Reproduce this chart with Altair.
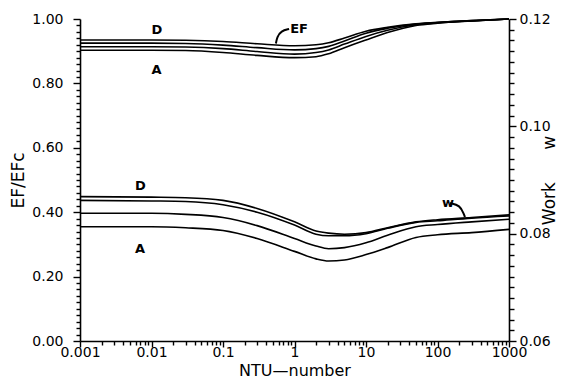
import altair as alt
import pandas as pd

# ---------------- data ----------------
ntu = [0.001, 0.01, 0.03, 0.1, 0.3, 1, 2, 3, 5, 10, 20, 50, 100, 300, 1000]

# EF/EFc curves (left axis)
ef_A = [0.903, 0.903, 0.902, 0.896, 0.887, 0.880, 0.883, 0.892, 0.911, 0.935, 0.958, 0.980, 0.987, 0.994, 1.000]
ef_B = [0.914, 0.914, 0.913, 0.908, 0.899, 0.891, 0.896, 0.904, 0.922, 0.946, 0.965, 0.982, 0.988, 0.994, 1.000]
ef_C = [0.925, 0.925, 0.924, 0.919, 0.911, 0.904, 0.908, 0.915, 0.932, 0.956, 0.971, 0.984, 0.989, 0.995, 1.000]
ef_D = [0.935, 0.935, 0.934, 0.930, 0.923, 0.917, 0.920, 0.926, 0.941, 0.962, 0.974, 0.985, 0.990, 0.995, 1.000]

# Work w curves (right axis)
w_A = [0.0813, 0.0813, 0.0811, 0.0806, 0.0791, 0.0767, 0.0753, 0.0749, 0.0751, 0.0761, 0.0774, 0.0793, 0.0798, 0.0802, 0.0808]
w_B = [0.0838, 0.0838, 0.0836, 0.0830, 0.0815, 0.0791, 0.0777, 0.0772, 0.0774, 0.0783, 0.0797, 0.0813, 0.0817, 0.0822, 0.0827]
w_C = [0.0862, 0.0861, 0.0860, 0.0854, 0.0840, 0.0816, 0.0799, 0.0796, 0.0796, 0.0800, 0.0810, 0.0821, 0.0824, 0.0829, 0.0833]
w_D = [0.0869, 0.0868, 0.0867, 0.0862, 0.0847, 0.0822, 0.0805, 0.0801, 0.0799, 0.0802, 0.0811, 0.0822, 0.0826, 0.0830, 0.0835]

# annotations
ef_lbl_text = ["D", "A", "EF"]
ef_lbl_ntu = [0.0100, 0.0100, 0.87]
ef_lbl_val = [0.966, 0.842, 0.969]
ef_lead_ntu = [0.84, 0.65, 0.57, 0.55]
ef_lead_val = [0.969, 0.963, 0.944, 0.924]

w_lbl_text = ["D", "A", "w"]
w_lbl_ntu = [0.0059, 0.0059, 116]
w_lbl_val = [0.0889, 0.0771, 0.0858]
w_lead_ntu = [150, 206, 235, 242]
w_lead_val = [0.0857, 0.0853, 0.0836, 0.0831]

x_ticks = [m * 10.0 ** e for e in range(-3, 3) for m in range(1, 10)] + [1000.0]
yl_ticks = [round(i * 0.02, 2) for i in range(51)]
yr_ticks = [round(0.06 + i * 0.002, 3) for i in range(31)]

# ---------------- frames ----------------
def long(curves):
    rows = []
    for name, vals in curves.items():
        for n, v in zip(ntu, vals):
            rows.append({"ntu": n, "val": v, "curve": name})
    return pd.DataFrame(rows)

ef_df = long({"A": ef_A, "B": ef_B, "C": ef_C, "D": ef_D})
w_df = long({"A": w_A, "B": w_B, "C": w_C, "D": w_D})
ef_lbl = pd.DataFrame({"ntu": ef_lbl_ntu, "val": ef_lbl_val, "t": ef_lbl_text})
w_lbl = pd.DataFrame({"ntu": w_lbl_ntu, "val": w_lbl_val, "t": w_lbl_text})
ef_lead = pd.DataFrame({"ntu": ef_lead_ntu, "val": ef_lead_val, "o": list(range(len(ef_lead_ntu)))})
w_lead = pd.DataFrame({"ntu": w_lead_ntu, "val": w_lead_val, "o": list(range(len(w_lead_ntu)))})

FONT = "DejaVu Sans"
NB = "\u00a0"

x_axis = alt.Axis(
    values=x_ticks,
    labelExpr="abs(log(datum.value)/LN10 - round(log(datum.value)/LN10)) < 0.001 ? format(datum.value, '~g') : ''",
    tickSize={"condition": {"test": "abs(log(datum.value)/LN10 - round(log(datum.value)/LN10)) < 0.001", "value": 6}, "value": 4},
    labelPadding=-2, labelFontSize=14, titleFontSize=16, titlePadding=3,
    labelFlush=False, labelOverlap=False, title="NTU\u2014number",
)
x_enc = alt.X("ntu:Q", scale=alt.Scale(type="log", domain=[0.001, 1000], nice=False), axis=x_axis)

yl_axis = alt.Axis(
    values=yl_ticks, orient="left",
    labelExpr="abs(datum.value*5 - round(datum.value*5)) < 0.001 ? format(datum.value, '.2f') : ''",
    tickSize={"condition": {"test": "abs(datum.value*5 - round(datum.value*5)) < 0.001", "value": 7}, "value": 4},
    labelPadding=10, labelFontSize=14, titleFontSize=17, titlePadding=4,
    labelOverlap=False, title="EF/EFc",
)
yl_enc = alt.Y("val:Q", scale=alt.Scale(domain=[0, 1], nice=False, zero=False), axis=yl_axis)

yr_axis = alt.Axis(
    values=yr_ticks, orient="right",
    labelExpr="abs(datum.value*50 - round(datum.value*50)) < 0.001 ? format(datum.value, '.2f') : ''",
    tickSize={"condition": {"test": "abs(datum.value*50 - round(datum.value*50)) < 0.001", "value": 7}, "value": 5},
    labelPadding=3, labelFontSize=14, titleFontSize=17, titlePadding=8,
    labelOverlap=False, title="Work" + NB * 6 + "w", titleAngle=270,
)
yr_enc = alt.Y("val:Q", scale=alt.Scale(domain=[0.06, 0.12], nice=False, zero=False), axis=yr_axis)

ef_lines = alt.Chart(ef_df).mark_line(color="black", strokeWidth=1.6, interpolate="monotone").encode(
    x=x_enc, y=yl_enc, detail="curve:N")
ef_text = alt.Chart(ef_lbl).mark_text(font=FONT, fontSize=13, fontWeight="bold", align="left", baseline="middle", color="black").encode(
    x=x_enc, y=yl_enc, text="t:N")
ef_leader = alt.Chart(ef_lead).mark_line(color="black", strokeWidth=2, interpolate="basis").encode(
    x=x_enc, y=yl_enc, order="o:Q")

w_lines = alt.Chart(w_df).mark_line(color="black", strokeWidth=1.6, interpolate="monotone").encode(
    x=x_enc, y=yr_enc, detail="curve:N")
w_text = alt.Chart(w_lbl).mark_text(font=FONT, fontSize=13, fontWeight="bold", align="left", baseline="middle", color="black").encode(
    x=x_enc, y=yr_enc, text="t:N")
w_leader = alt.Chart(w_lead).mark_line(color="black", strokeWidth=2, interpolate="basis").encode(
    x=x_enc, y=yr_enc, order="o:Q")

left = alt.layer(ef_lines, ef_text, ef_leader)
right = alt.layer(w_lines, w_text, w_leader)

chart = alt.layer(left, right).resolve_scale(y="independent").properties(
    width=429, height=322,
    autosize=alt.AutoSizeParams(type="none"),
    padding={"left": 72, "top": 11, "right": 60, "bottom": 40},
).configure_view(stroke=None).configure_axis(
    grid=False, domainColor="black", domainWidth=1.6, tickColor="black", tickWidth=1.4,
    labelFont=FONT, titleFont=FONT, labelColor="black", titleColor="black",
    titleFontWeight="normal", labelFontWeight="normal",
)

chart.save("out.html", embed_options={"renderer": "svg", "actions": False})
